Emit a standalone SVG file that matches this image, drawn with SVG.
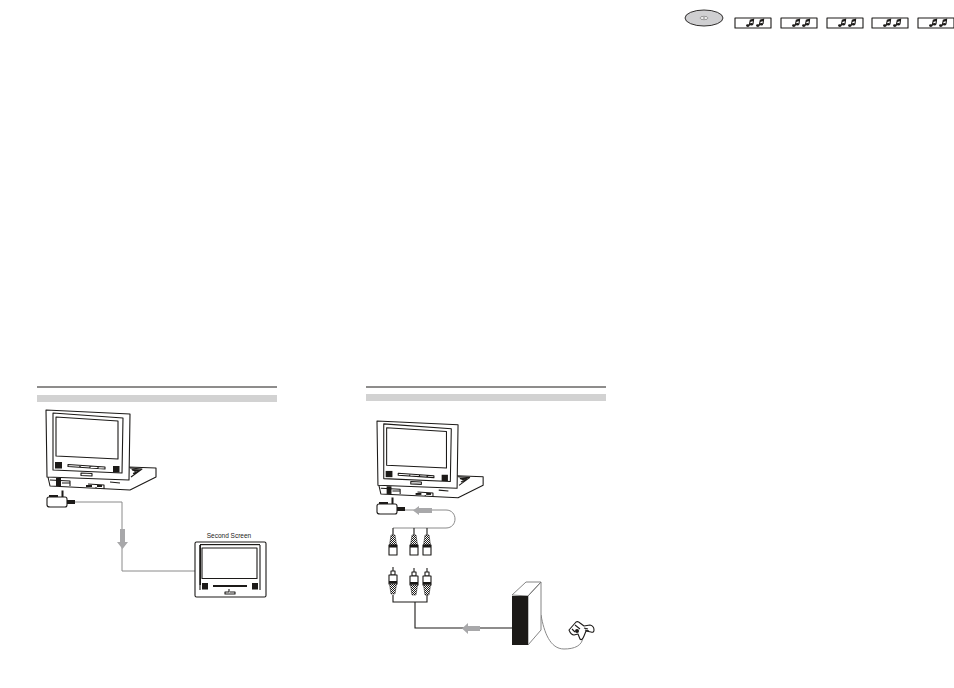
<svg xmlns="http://www.w3.org/2000/svg" xmlns:xlink="http://www.w3.org/1999/xlink" width="954" height="688" viewBox="0 0 954 688">
<style>
.o{fill:none;stroke:#1c1a18;stroke-width:1.100;stroke-linejoin:round}
.w{fill:#fff;stroke:#1c1a18;stroke-width:1.100;stroke-linejoin:round}
.k{fill:#1c1a18}
.g{fill:#a8a8aa}
.rule{stroke:#1c1a18;stroke-width:1}
.band{fill:#d2d2d2}
.cg{fill:none;stroke:#8a8a8a;stroke-width:1}
.ck{fill:none;stroke:#1c1a18;stroke-width:1.100}
.braid{fill:url(#checker);stroke:#1c1a18;stroke-width:.5}
</style>
<defs>
<pattern id="checker" width="2" height="2" patternUnits="userSpaceOnUse">
<rect width="2" height="2" fill="#fff"/>
<rect width="1" height="1" fill="#1c1a18"/>
<rect x="1" y="1" width="1" height="1" fill="#1c1a18"/>
</pattern>
<g id="laptop">
<path class="w" d="M72 468 L126 468 L128 467 L156 468 L156 477 L130 490 L50 486 L48 477 Z"/>
<path class="w" d="M46 410 L130 414 L129 480 L47 477 Z"/>
<path class="o" d="M53 413 L123 418 L122 473 L53 470 Z"/>
<path class="o" d="M56 417 L118 421 L118 459 L56 456 Z"/>
<rect class="k" x="55" y="462" width="7" height="6.500"/>
<rect class="k" x="113" y="466" width="6.500" height="6.500"/>
<path class="o" d="M68 464.500 L105 467 L105 469 L68 466.500 Z M80 465 V467 M90 466 V468 M98 466.500 V468.500"/>
<path class="o" d="M81 473 L92 473.500 L92 476 L81 475.500 Z"/>
<path class="o" d="M130 468 L142 469 L131 477 M132 470 L140 470.500 L133 473.500"/>
<path class="k" d="M131 469 L141 469.500 L135 472 Z"/>
<rect class="k" x="56" y="478" width="5" height="8"/>
<path class="o" d="M50 480 L70 481 V486 M62 483 L70 483"/>
<path class="o" d="M88 484 L104 485 V489 M96 487 V488 M110 482 L120 483"/>
<rect class="k" x="86" y="485" width="6" height="2"/>
<rect class="k" x="97" y="485" width="5" height="2"/>
</g>
<g id="adapter">
<path class="w" d="M49 497 H65 Q67 497 67 499 V505 Q67 507 65 507 H50 Q47 507 47 505 V499 Q47 497 49 497 Z"/>
<rect class="k" x="49" y="495" width="9" height="2"/>
<rect class="k" x="61.500" y="490.500" width="2" height="6.500"/>
<rect class="k" x="67" y="500" width="8" height="4"/>
</g>
<g id="plugTop">
<path class="ck" d="M0 0 V7"/>
<path class="braid" d="M-2 7 H2 L3.500 17 H-3.500 Z"/>
<rect class="w" x="-4" y="17" width="8" height="10"/>
<rect class="k" x="-4" y="17" width="8" height="2.500"/>
</g>
<g id="plugBottom">
<path class="ck" d="M0 0 V5"/>
<rect class="w" x="-2" y="4" width="4" height="4"/>
<rect class="w" x="-4" y="8" width="8" height="9"/>
<rect class="k" x="-4" y="14" width="8" height="2.500"/>
<path class="braid" d="M-3.500 17 H3.500 L2 27 H-2 Z"/>
</g>
<g id="note">
<ellipse class="k" cx="1.800" cy="7.600" rx="1.800" ry="1.300"/>
<path class="ck" d="M3.200 7.500 L4.300 2.200 L7.600 1.200 L7 6"/>
<path class="k" d="M4.300 2 L7.700 1 L7.500 3 L4 4 Z"/>
<ellipse class="k" cx="5.400" cy="6.300" rx="1.700" ry="1.200"/>
</g>
<g id="music">
<rect class="w" x="0" y="0" width="36" height="10"/>
<use href="#note" xlink:href="#note" x="11" y="0"/>
<use href="#note" xlink:href="#note" x="21" y="0"/>
</g>
</defs>

<g id="headers">
<line class="rule" x1="37" y1="387" x2="277" y2="387"/>
<rect class="band" x="37" y="395" width="240" height="7"/>
<line class="rule" x1="366" y1="387" x2="606" y2="387"/>
<rect class="band" x="366" y="394" width="240" height="7"/>
</g>

<g id="connectors">
<path class="cg" d="M75 502 H122 V571 H195"/>
<path class="g" d="M120 529 H125 V542 H128 L122.500 549 L117 542 H120 Z"/>
<path class="cg" d="M403 510 H446 C458 510 458 528 446 528 H393"/>
<path class="g" d="M432 508 V513 H419 V515 L413 510.500 L419 506 V508 Z"/>
<path class="ck" d="M393 595 V602 H427 V595 M415 602 V628 H512"/>
<path class="g" d="M480 626 V631 H468 V634 L462 628.500 L468 623 V626 Z"/>
<path class="cg" d="M541 615 C544 632 550 649 564 649 C574 649 583 646 583 636"/>
</g>

<g id="laptop-left"><use href="#laptop" xlink:href="#laptop"/></g>
<g id="adapter-left"><use href="#adapter" xlink:href="#adapter"/></g>

<g id="second-screen">
<text x="229" y="538" font-family="Liberation Sans, Arial, sans-serif" font-size="6.500" text-anchor="middle" fill="#1c1a18">Second Screen</text>
<rect class="w" x="195" y="542" width="71" height="55" rx="1.500"/>
<rect class="k" x="200" y="544" width="60" height="1.200"/>
<path class="o" d="M200 545 V590 M260 545 V590"/>
<rect class="k" x="199.500" y="545" width="1.500" height="40"/>
<rect class="w" x="202" y="548" width="55" height="30.500"/>
<rect class="k" x="202" y="583" width="6" height="6.500"/>
<rect class="k" x="252" y="583" width="6" height="6.500"/>
<rect class="k" x="213" y="585" width="34" height="2"/>
<path class="o" d="M229 589 L229 592 H225 V594 H235 V592 H230"/>
</g>

<g id="laptop-right"><use href="#laptop" xlink:href="#laptop" transform="matrix(.965 0 0 .96 332.600 27.400)"/></g>
<g id="adapter-right"><use href="#adapter" xlink:href="#adapter" x="330" y="7"/></g>

<g id="plugs">
<use href="#plugTop" xlink:href="#plugTop" x="393" y="528"/>
<use href="#plugTop" xlink:href="#plugTop" x="414" y="528"/>
<use href="#plugTop" xlink:href="#plugTop" x="427" y="528"/>
<use href="#plugBottom" xlink:href="#plugBottom" x="393" y="567"/>
<use href="#plugBottom" xlink:href="#plugBottom" x="414" y="568"/>
<use href="#plugBottom" xlink:href="#plugBottom" x="427" y="568"/>
</g>

<g id="console">
<path d="M512 595 L526 582 H541 L528 596 Z M541 582 V630 L528 645 V596 Z" fill="#fff" stroke="#777" stroke-width=".9"/>
<rect class="k" x="512" y="596" width="16" height="49"/>
</g>

<g id="controller">
<path class="w" d="M569 630 L576 622 Q578 621 580 623 L584 626 L590 625 Q594 626 594 630 Q594 633 591 632 L586 631 L584 636 Q582 641 580 639 L578 634 L574 635 Q571 635 569 630 Z"/>
<circle class="k" cx="577" cy="631" r="2"/>
<path class="o" d="M575 625 L580 629 M572 629 L575 632 M584 628 L588 629 M585 630 L589 631"/>
</g>

<g id="disc">
<ellipse cx="704" cy="18" rx="19" ry="8" fill="#cfcfd1" stroke="#1c1a18" stroke-width=".9"/>
<ellipse cx="704" cy="18" rx="4" ry="1.700" fill="#eee" stroke="#6a6a6a" stroke-width=".6"/>
<circle cx="704" cy="18" r=".7" fill="#555"/>
</g>

<g id="track-1"><use href="#music" xlink:href="#music" x="735" y="18"/></g>
<g id="track-2"><use href="#music" xlink:href="#music" x="781" y="18"/></g>
<g id="track-3"><use href="#music" xlink:href="#music" x="827" y="18"/></g>
<g id="track-4"><use href="#music" xlink:href="#music" x="872" y="18"/></g>
<g id="track-5"><use href="#music" xlink:href="#music" x="918" y="18"/></g>
</svg>
